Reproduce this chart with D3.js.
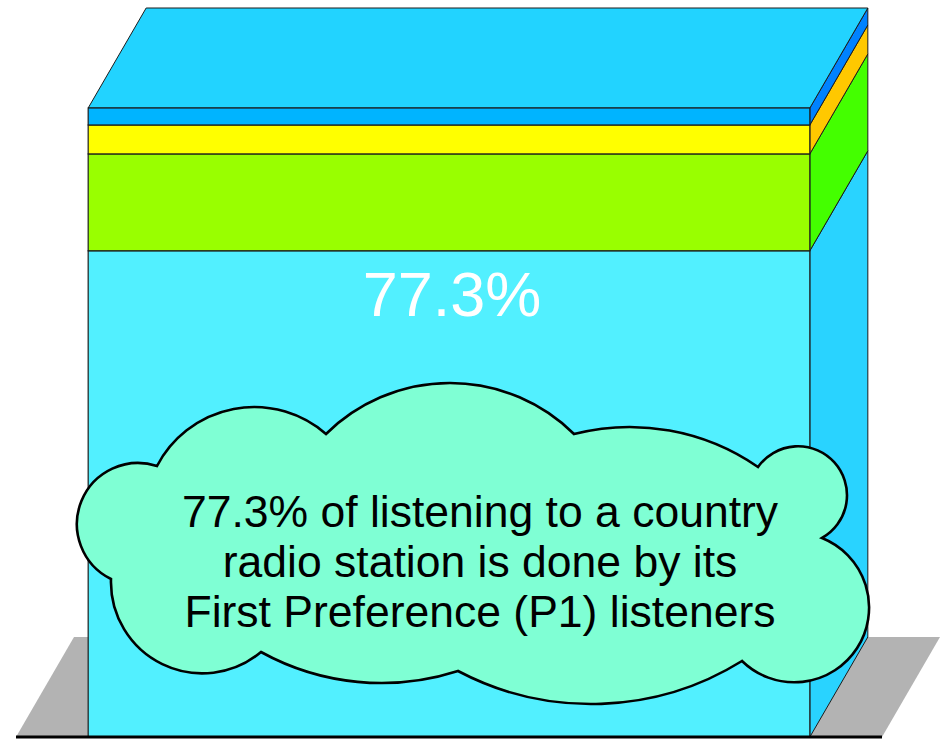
<!DOCTYPE html>
<html>
<head>
<meta charset="utf-8">
<script src="https://cdn.jsdelivr.net/npm/d3@7"></script>
<style>
  html, body { margin: 0; padding: 0; background: #ffffff; }
  svg { display: block; }
  text { font-family: "Liberation Sans", Arial, Helvetica, sans-serif; }
</style>
</head>
<body>
<div id="chart"></div>
<script>
// Share of listening to a country radio station, by listener preference group
const categories = ["Country radio station"];
const segments = ["First Preference (P1)", "Second Preference (P2)", "Third Preference (P3)", "Other listeners"];
const shares = [77.3, 15.4, 4.6, 2.7];
const calloutLines = [
  "77.3% of listening to a country",
  "radio station is done by its",
  "First Preference (P1) listeners"
];

const W = 943, H = 739;
const depth = { dx: 58, dy: -100 };

// face colours per segment: front and right-hand side
const frontColors = ["#52F0FF", "#99FF00", "#FFFF00", "#00B4FF"];
const sideColors  = ["#29D3FF", "#44FF00", "#FFC800", "#0082FF"];
const topColor = "#22D3FF";
const edge = "#1c1c1c";

const svg = d3.select("#chart").append("svg")
  .attr("width", W).attr("height", H);

const x = d3.scaleBand().domain(categories).range([16, 882])
  .paddingInner(0).paddingOuter(0.1);
const y = d3.scaleLinear().domain([0, 100]).range([737, 108]);

const row = { category: categories[0] };
segments.forEach((s, i) => { row[s] = shares[i]; });
const stacked = d3.stack().keys(segments)([row]);

const poly = pts => "M" + pts.map(p => p.join(",")).join("L") + "Z";

// floor plane under the bar
const [fx0, fx1] = x.range();
const base = y(0);
svg.append("path")
  .attr("d", poly([[fx0, base], [fx1, base], [fx1 + depth.dx, base + depth.dy], [fx0 + depth.dx, base + depth.dy]]))
  .attr("fill", "#B3B3B3");

const cat = categories[0];
const bx0 = x(cat), bx1 = x(cat) + x.bandwidth();

const g = svg.append("g");

// right-hand side faces
g.selectAll("path.side").data(stacked).join("path")
  .attr("class", "side")
  .attr("d", s => {
    const d = s[0];
    const yt = y(d[1]), yb = y(d[0]);
    return poly([[bx1, yt], [bx1, yb], [bx1 + depth.dx, yb + depth.dy], [bx1 + depth.dx, yt + depth.dy]]);
  })
  .attr("fill", (s, i) => sideColors[i])
  .attr("stroke", edge).attr("stroke-width", 1).attr("stroke-linejoin", "round");

// top face
const yTop = y(stacked[stacked.length - 1][0][1]);
g.append("path")
  .attr("d", poly([[bx0, yTop], [bx1, yTop], [bx1 + depth.dx, yTop + depth.dy], [bx0 + depth.dx, yTop + depth.dy]]))
  .attr("fill", topColor)
  .attr("stroke", edge).attr("stroke-width", 1).attr("stroke-linejoin", "round");

// front faces
g.selectAll("rect.front").data(stacked).join("rect")
  .attr("class", "front")
  .attr("x", bx0)
  .attr("y", s => y(s[0][1]))
  .attr("width", x.bandwidth())
  .attr("height", s => y(s[0][0]) - y(s[0][1]))
  .attr("fill", (s, i) => frontColors[i])
  .attr("stroke", edge).attr("stroke-width", 1.2);

// value label on the largest segment
const main = stacked[0][0];
svg.append("text")
  .attr("x", bx0 + x.bandwidth() / 2 + 3)
  .attr("y", y(main[1]) + 65)
  .attr("text-anchor", "middle")
  .attr("font-size", 63)
  .attr("fill", "#ffffff")
  .text(d3.format(".1f")(shares[0]) + "%");

// front edge of the floor
svg.append("line")
  .attr("x1", fx0).attr("x2", fx1)
  .attr("y1", base).attr("y2", base)
  .attr("stroke", "#000").attr("stroke-width", 3);

// callout cloud: cusp points and a point on each bulge between them
const cloudCusps = [[157, 466], [326, 434], [574, 434], [758, 467], [822, 538],
                    [742, 661], [458, 671], [261, 652], [111, 579]];
const cloudBulges = [[255, 407], [450, 383], [627, 427], [846, 505], [867, 590],
                     [593, 704], [380, 683], [160, 663], [77, 528]];

function arcThrough(p1, m, p2) {
  const [ax, ay] = p1, [bx, by] = m, [cx, cy] = p2;
  const d = 2 * (ax * (by - cy) + bx * (cy - ay) + cx * (ay - by));
  const a2 = ax * ax + ay * ay, b2 = bx * bx + by * by, c2 = cx * cx + cy * cy;
  const ux = (a2 * (by - cy) + b2 * (cy - ay) + c2 * (ay - by)) / d;
  const uy = (a2 * (cx - bx) + b2 * (ax - cx) + c2 * (bx - ax)) / d;
  const r = Math.hypot(ax - ux, ay - uy);
  const cross = (bx - ax) * (cy - by) - (by - ay) * (cx - bx);
  const side = (px, py) => Math.sign((cx - ax) * (py - ay) - (cy - ay) * (px - ax));
  const large = side(bx, by) * side(ux, uy) > 0 ? 1 : 0;
  const sweep = cross > 0 ? 1 : 0;
  return `A${r.toFixed(2)},${r.toFixed(2)} 0 ${large} ${sweep} ${cx},${cy}`;
}

let cloudPath = `M${cloudCusps[0][0]},${cloudCusps[0][1]}`;
cloudCusps.forEach((c, i) => {
  const next = cloudCusps[(i + 1) % cloudCusps.length];
  cloudPath += arcThrough(c, cloudBulges[i], next);
});
cloudPath += "Z";

svg.append("path")
  .attr("d", cloudPath)
  .attr("fill", "#7FFFD4")
  .attr("stroke", "#000")
  .attr("stroke-width", 2.6)
  .attr("stroke-linejoin", "miter");

svg.append("g").selectAll("text").data(calloutLines).join("text")
  .attr("x", 480)
  .attr("y", (d, i) => 527 + i * 50)
  .attr("text-anchor", "middle")
  .attr("font-size", 44.5)
  .attr("fill", "#000")
  .text(d => d);
</script>
</body>
</html>
